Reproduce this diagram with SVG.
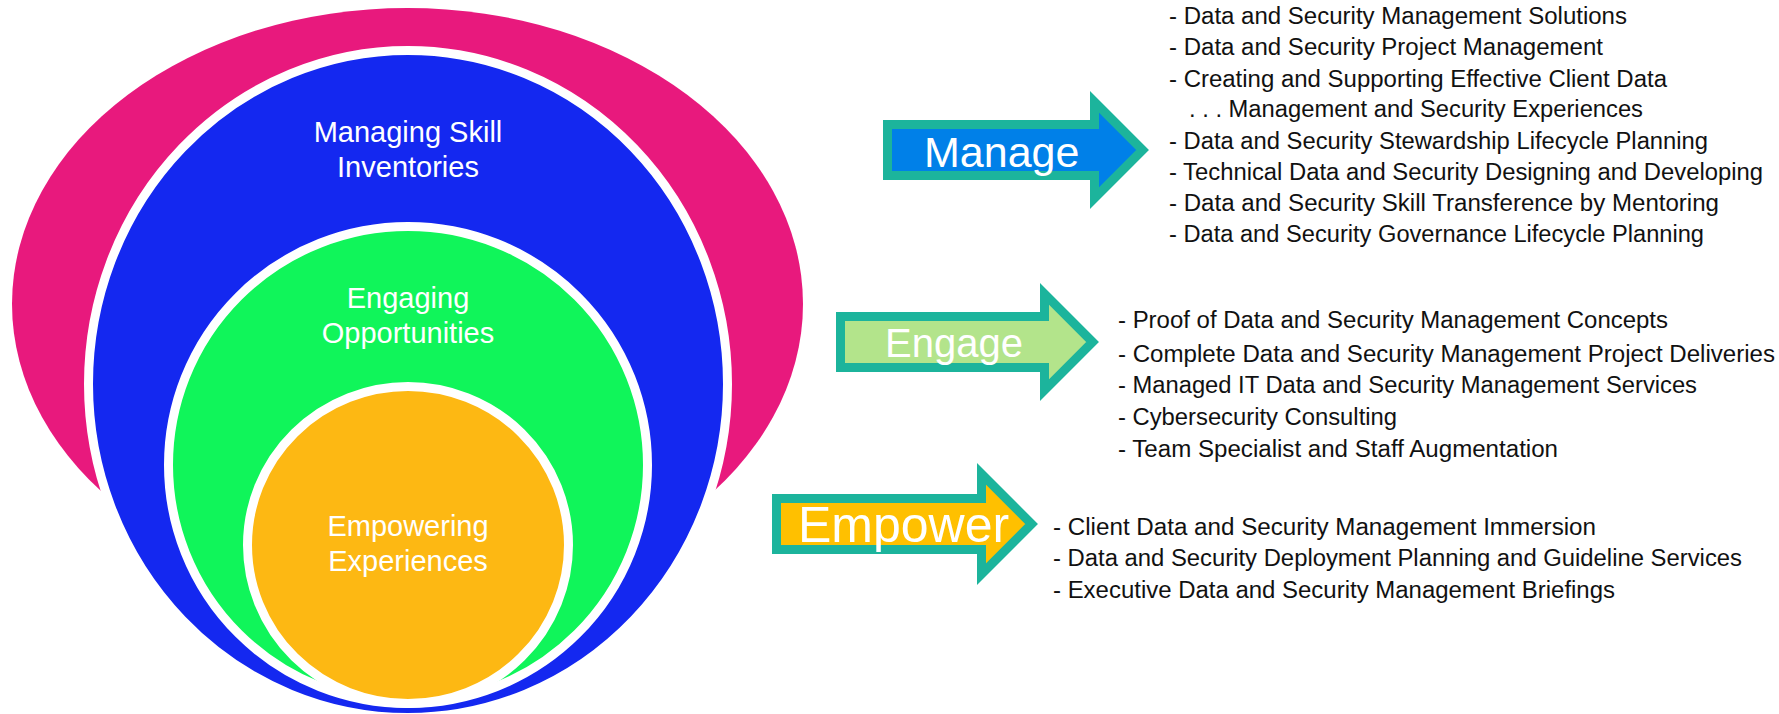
<svg xmlns="http://www.w3.org/2000/svg" width="1779" height="714" viewBox="0 0 1779 714">
<style>
.ring{stroke:#FFFFFF;stroke-width:9}
.ctext{font-family:"Liberation Sans",Arial,sans-serif;font-size:29px;fill:#FFFFFF;text-anchor:middle}
.arrow{stroke:#1CB49C;stroke-width:9;stroke-linejoin:miter;stroke-miterlimit:10}
.atext{font-family:"Liberation Sans",Arial,sans-serif;fill:#FFFFFF}
.list{font-family:"Liberation Sans",Arial,sans-serif;font-size:23.5px;fill:#111111}
</style>
<rect width="1779" height="714" fill="#FFFFFF"/>
<g id="outer-arc">
<ellipse cx="407.5" cy="304" rx="395.5" ry="296" fill="#E8197D"/>
</g>
<g id="managing-skill-inventories">
<ellipse class="ring" cx="408" cy="384" rx="319.5" ry="333.5" fill="#1428F0"/>
<text class="ctext" x="408" y="142">Managing Skill</text>
<text class="ctext" x="408" y="177">Inventories</text>
</g>
<g id="engaging-opportunities">
<ellipse class="ring" cx="408" cy="465" rx="239.5" ry="238.5" fill="#10F55A"/>
<text class="ctext" x="408" y="308">Engaging</text>
<text class="ctext" x="408" y="343">Opportunities</text>
</g>
<g id="empowering-experiences">
<ellipse class="ring" cx="408" cy="545" rx="160.5" ry="158.5" fill="#FDB813"/>
<text class="ctext" x="408" y="536">Empowering</text>
<text class="ctext" x="408" y="571">Experiences</text>
</g>
<g id="manage-arrow">
<polygon class="arrow" fill="#0080E8" points="887.5,124.5 1094.5,124.5 1094.5,101.9 1142.6,150 1094.5,198.1 1094.5,175.5 887.5,175.5"/>
<text class="atext" x="924" y="167" font-size="43">Manage</text>
</g>
<g id="engage-arrow">
<polygon class="arrow" fill="#B3E48B" points="840.5,316.5 1044.5,316.5 1044.5,293.9 1092.6,342 1044.5,390.1 1044.5,367.5 840.5,367.5"/>
<text class="atext" x="885" y="357" font-size="40">Engage</text>
</g>
<g id="empower-arrow">
<polygon class="arrow" fill="#FFC000" points="776.5,498.5 981.5,498.5 981.5,473.9 1031.6,524 981.5,574.1 981.5,549.5 776.5,549.5"/>
<text class="atext" x="798" y="542" font-size="50">Empower</text>
</g>
<g id="manage-list" class="list">
<text x="1169" y="24" textLength="458" lengthAdjust="spacingAndGlyphs">- Data and Security Management Solutions</text>
<text x="1169" y="55" textLength="434" lengthAdjust="spacingAndGlyphs">- Data and Security Project Management</text>
<text x="1169" y="87" textLength="498" lengthAdjust="spacingAndGlyphs">- Creating and Supporting Effective Client Data</text>
<text x="1189" y="117" textLength="454" lengthAdjust="spacingAndGlyphs">. . . Management and Security Experiences</text>
<text x="1169" y="149" textLength="539" lengthAdjust="spacingAndGlyphs">- Data and Security Stewardship Lifecycle Planning</text>
<text x="1169" y="180" textLength="594" lengthAdjust="spacingAndGlyphs">- Technical Data and Security Designing and Developing</text>
<text x="1169" y="211" textLength="550" lengthAdjust="spacingAndGlyphs">- Data and Security Skill Transference by Mentoring</text>
<text x="1169" y="242" textLength="535" lengthAdjust="spacingAndGlyphs">- Data and Security Governance Lifecycle Planning</text>
</g>
<g id="engage-list" class="list">
<text x="1118" y="328" textLength="550" lengthAdjust="spacingAndGlyphs">- Proof of Data and Security Management Concepts</text>
<text x="1118" y="362" textLength="657" lengthAdjust="spacingAndGlyphs">- Complete Data and Security Management Project Deliveries</text>
<text x="1118" y="393" textLength="579" lengthAdjust="spacingAndGlyphs">- Managed IT Data and Security Management Services</text>
<text x="1118" y="425" textLength="279" lengthAdjust="spacingAndGlyphs">- Cybersecurity Consulting</text>
<text x="1118" y="457" textLength="440" lengthAdjust="spacingAndGlyphs">- Team Specialist and Staff Augmentation</text>
</g>
<g id="empower-list" class="list">
<text x="1053" y="535" textLength="543" lengthAdjust="spacingAndGlyphs">- Client Data and Security Management Immersion</text>
<text x="1053" y="566" textLength="689" lengthAdjust="spacingAndGlyphs">- Data and Security Deployment Planning and Guideline Services</text>
<text x="1053" y="598" textLength="562" lengthAdjust="spacingAndGlyphs">- Executive Data and Security Management Briefings</text>
</g>
<g id="connectors"/>
</svg>
